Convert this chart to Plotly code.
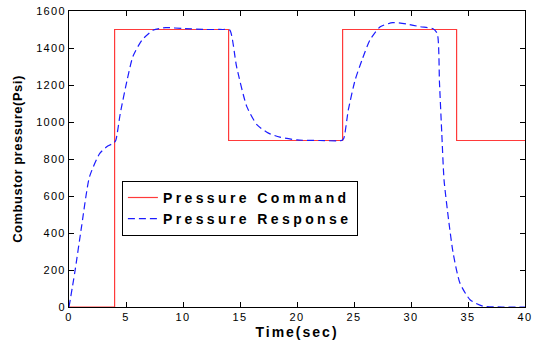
import plotly.graph_objects as go

# Command (step) signal
cmd_t = [0, 4, 4, 14, 14, 24, 24, 34, 34, 40]
cmd_p = [0, 0, 1500, 1500, 900, 900, 1500, 1500, 900, 900]

# Response signal
resp_t = [0, 0.5, 1.1, 1.8, 2.7, 3.4, 3.9, 4.1, 4.5, 5.1, 5.6, 6.4, 7.4, 8.5, 10, 12, 13.5, 14.1,
          14.7, 15.6, 16.5, 17.5, 18.5, 20, 22, 23.9, 24.1, 24.5, 25.1, 25.7, 26.4, 27.3, 28.4,
          29.6, 30.8, 31.9, 32.3, 32.5, 32.7, 32.9, 33.3, 33.7, 34.3, 35.2, 36.3, 38, 40]
resp_p = [0, 184, 434, 704, 830, 870, 885, 900, 1047, 1227, 1353, 1443, 1497, 1510, 1505, 1500,
          1500, 1497, 1299, 1083, 984, 940, 918, 903, 900, 900, 911, 1065, 1227, 1335, 1443, 1515,
          1537, 1530, 1515, 1505, 1479, 1209, 939, 686, 470, 290, 128, 38, 5, 0, 0]

series_names = ["Pressure Command", "Pressure Response"]
x_title = "Time(sec)"
y_title = "Combustor pressure(Psi)"

FONT = "Arial, Liberation Sans, sans-serif"


def spaced(txt, ls):
    return "<span style='letter-spacing:%spx'><b>%s</b></span>" % (ls, txt)


fig = go.Figure()
fig.add_trace(go.Scatter(x=cmd_t, y=cmd_p, mode="lines", name=spaced(series_names[0], 3.4),
                         line=dict(color="#ff3a3a", width=1.2)))
fig.add_trace(go.Scatter(x=resp_t, y=resp_p, mode="lines", name=spaced(series_names[1], 3.4),
                         line=dict(color="#1c1cff", width=1.2, dash="7px,4px",
                                   shape="spline", smoothing=0.6)))

axis_common = dict(showgrid=False, zeroline=False, showline=True, linecolor="black", linewidth=1,
                   mirror="ticks", ticks="inside", ticklen=5, tickcolor="black", automargin=False,
                   tickfont=dict(family=FONT, size=11, color="black"))
fig.update_xaxes(range=[0, 40], dtick=5, **axis_common,
                 title=dict(text=spaced(x_title, 2), standoff=4,
                            font=dict(family=FONT, size=14, color="black")))
fig.update_yaxes(range=[0, 1600], dtick=200, **axis_common,
                 title=dict(text=spaced(y_title, 0.5), standoff=15,
                            font=dict(family=FONT, size=13, color="black")))

fig.update_layout(
    width=533, height=345,
    margin=dict(l=69, r=8, t=11, b=38),
    paper_bgcolor="white", plot_bgcolor="white",
    showlegend=True,
    legend=dict(x=0.116, y=0.426, xanchor="left", yanchor="top",
                bgcolor="white", bordercolor="black", borderwidth=1,
                font=dict(family=FONT, size=14, color="black"),
                tracegroupgap=0, itemwidth=30),
)

post = """
document.body.style.margin = '0';
var s = document.createElement('style');
s.textContent = '.xtick text, .ytick text{letter-spacing:1.3px}';
document.head.appendChild(s);
"""

fig.write_html("out.html", post_script=post, config={"displayModeBar": False})
